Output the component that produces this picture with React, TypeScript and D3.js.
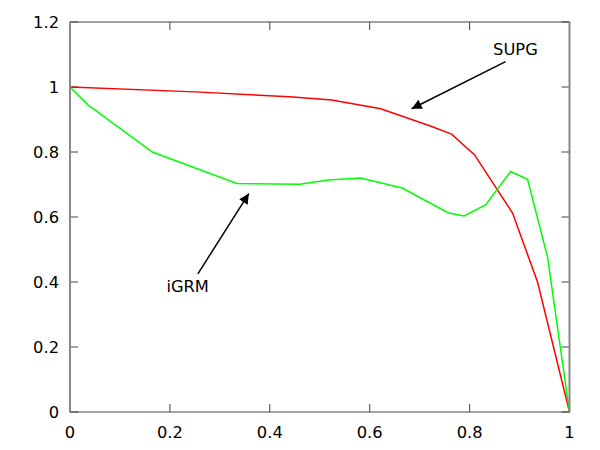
import React from "react";
import * as d3 from "d3";

const supgX = [0, 0.25, 0.44, 0.524, 0.622, 0.72, 0.764, 0.81, 0.886, 0.936, 1];
const supgY = [1, 0.985, 0.97, 0.96, 0.933, 0.881, 0.855, 0.791, 0.612, 0.40, 0];
const igrmX = [0, 0.036, 0.165, 0.334, 0.46, 0.517, 0.582, 0.665, 0.757, 0.789, 0.832, 0.882, 0.916, 0.956, 1];
const igrmY = [1, 0.945, 0.8, 0.703, 0.701, 0.714, 0.72, 0.689, 0.613, 0.603, 0.637, 0.74, 0.716, 0.477, 0];
const xTicks = [0, 0.2, 0.4, 0.6, 0.8, 1];
const yTicks = [0, 0.2, 0.4, 0.6, 0.8, 1, 1.2];
const annotations = [
  { label: "SUPG", from: [0.872, 1.078], to: [0.684, 0.933], text: [0.847, 1.1] },
  { label: "iGRM", from: [0.256, 0.425], to: [0.358, 0.672], text: [0.193, 0.37] },
];

export default function App() {
  const W = 600, H = 450;
  const left = 70, right = 569.5, top = 22, bottom = 412;
  const x = d3.scaleLinear().domain([0, 1]).range([left, right]);
  const y = d3.scaleLinear().domain([0, 1.2]).range([bottom, top]);
  const mk = (xs: number[], ys: number[]) =>
    d3.line<number>().x((i) => x(xs[i])).y((i) => y(ys[i]))(xs.map((_, i) => i)) || "";
  const font = "DejaVu Sans, sans-serif";
  const fs = 16.3;
  const tl = 8;
  return (
    <svg width={W} height={H} style={{ position: "absolute", left: 0, top: 0 }}>
      <defs>
        <marker id="ah" viewBox="0 0 10 10" refX="10" refY="5" markerWidth="14" markerHeight="10" markerUnits="userSpaceOnUse" orient="auto">
          <path d="M0,0 L10,5 L0,10 z" fill="#000" />
        </marker>
      </defs>
      <rect x={0} y={0} width={W} height={H} fill="#fff" />
      {xTicks.map((t) => (
        <g key={"x" + t}>
          <line x1={x(t)} x2={x(t)} y1={bottom} y2={bottom - tl} stroke="#444" />
          <line x1={x(t)} x2={x(t)} y1={top} y2={top + tl} stroke="#444" />
          <text x={x(t)} y={437.5} textAnchor="middle" fontFamily={font} fontSize={fs} fill="#000">{String(t)}</text>
        </g>
      ))}
      {yTicks.map((t) => (
        <g key={"y" + t}>
          <line x1={left} x2={left + tl} y1={y(t)} y2={y(t)} stroke="#444" />
          <line x1={right} x2={right - tl} y1={y(t)} y2={y(t)} stroke="#444" />
          <text x={59} y={y(t) + 6} textAnchor="end" fontFamily={font} fontSize={fs} fill="#000">{String(t)}</text>
        </g>
      ))}
      <path d={mk(supgX, supgY)} fill="none" stroke="#ff0000" strokeWidth={1.5} />
      <path d={mk(igrmX, igrmY)} fill="none" stroke="#00ff00" strokeWidth={1.5} />
      <rect x={left} y={top} width={right - left} height={bottom - top} fill="none" stroke="#444" strokeWidth={1} />
      <line x1={left} x2={left} y1={top} y2={bottom} stroke="#888" strokeWidth={2} />
      <line x1={right} x2={right} y1={top} y2={bottom} stroke="#888" strokeWidth={2} />
      {annotations.map((a) => (
        <g key={a.label}>
          <line x1={x(a.from[0])} y1={y(a.from[1])} x2={x(a.to[0])} y2={y(a.to[1])} stroke="#000" strokeWidth={1.5} markerEnd="url(#ah)" />
          <text x={x(a.text[0])} y={y(a.text[1])} fontFamily={font} fontSize={fs} fill="#000">{a.label}</text>
        </g>
      ))}
    </svg>
  );
}
